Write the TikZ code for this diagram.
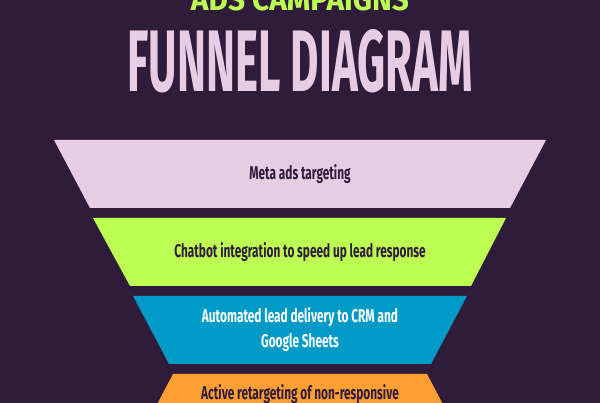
\documentclass[tikz,border=0pt]{standalone}
\usepackage{fontspec}
\setmainfont{Fira Sans}
\newfontfamily\cond[FakeStretch=0.64]{Fira Sans}
\newfontfamily\titlefont[FakeStretch=0.5]{Fira Sans}
\definecolor{bg}{HTML}{2F1C3B}
\definecolor{pinkc}{HTML}{E8CCE4}
\definecolor{limec}{HTML}{BDFF52}
\definecolor{bluec}{HTML}{009AC7}
\definecolor{orangec}{HTML}{FF9E33}
\begin{document}
\begin{tikzpicture}[x=1pt,y=-1pt,
  lbl/.style={font=\cond\bfseries\fontsize{18.5}{25}\selectfont,text=bg,align=center,inner sep=0pt}]
\fill[bg] (0,0) rectangle (600,403);
\useasboundingbox (0,0) rectangle (600,403);
\node[text=limec,inner sep=0pt,anchor=base] (t1) at (300,11) {\resizebox{218pt}{22pt}{\bfseries ADS CAMPAIGNS}};
\node[text=pinkc,inner sep=0pt,anchor=base] (t2) at (300,92) {\resizebox{345pt}{62pt}{\titlefont\bfseries FUNNEL DIAGRAM}};
\fill[pinkc] (54,140) -- (546,140) -- (510,208) -- (90,208) -- cycle;
\fill[limec] (93,218) -- (506,218) -- (471,286) -- (130,286) -- cycle;
\fill[bluec] (133,296) -- (467,296) -- (431,364) -- (169,364) -- cycle;
\fill[orangec] (173,374) -- (427,374) -- (447,412) -- (153,412) -- cycle;
\node[lbl] (s1) at (300,174) {Meta ads targeting};
\node[lbl] (s2) at (300,252) {Chatbot integration to speed up lead response};
\node[lbl,text=white] (s3) at (300,330) {Automated lead delivery to CRM and\\Google Sheets};
\node[lbl,anchor=north] (s4) at (300,384) {Active retargeting of non-responsive};
\end{tikzpicture}
\end{document}
